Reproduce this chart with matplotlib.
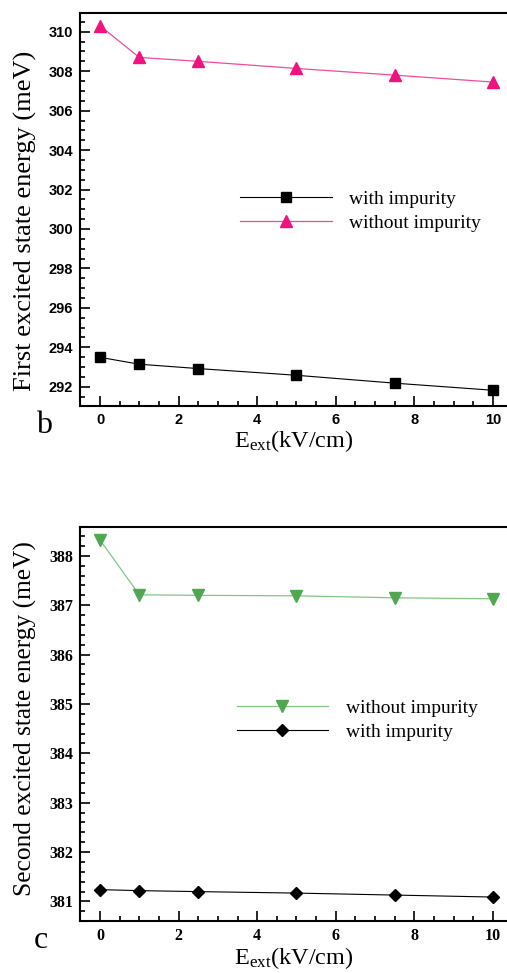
import matplotlib
matplotlib.use("Agg")
import matplotlib.pyplot as plt
from matplotlib.ticker import MultipleLocator

# external field (kV/cm)
field = [0, 1, 2.5, 5, 7.5, 10]

# first excited state energy (meV)
first_with = [293.49, 293.14, 292.92, 292.58, 292.18, 291.82]
first_without = [310.30, 308.70, 308.50, 308.14, 307.80, 307.45]

# second excited state energy (meV)
second_without = [388.32, 387.21, 387.20, 387.19, 387.15, 387.13]
second_with = [381.24, 381.22, 381.20, 381.17, 381.13, 381.09]

x_ticks = [0, 2, 4, 6, 8, 10]
first_yticks = [292, 294, 296, 298, 300, 302, 304, 306, 308, 310]
second_yticks = [381, 382, 383, 384, 385, 386, 387, 388]

plt.rcParams["mathtext.fontset"] = "custom"
plt.rcParams["mathtext.rm"] = "Liberation Serif"
plt.rcParams["mathtext.it"] = "Liberation Serif"

PINK = "#f0127e"
PINK_LINE = "#f04c9c"
GREEN = "#4fa84f"
GREEN_LINE = "#82c682"


def style_axes(ax, tick_font):
    ax.spines["right"].set_visible(False)
    for side in ("left", "top", "bottom"):
        ax.spines[side].set_linewidth(1.5)
    ax.tick_params(which="both", direction="in", top=False, right=False, width=1.2)
    ax.tick_params(which="major", length=7, pad=5)
    ax.tick_params(which="minor", length=3.5)
    ax.set_xticks(x_ticks)
    ax.xaxis.set_minor_locator(MultipleLocator(0.5))
    for lab in ax.get_xticklabels() + ax.get_yticklabels():
        lab.set_fontproperties(tick_font)


legend_kw = dict(loc="upper left", frameon=False,
                 prop={"family": "Liberation Serif", "size": 14},
                 handlelength=4.7, handletextpad=0.9, labelspacing=0.3,
                 borderpad=0, borderaxespad=0)

fig = plt.figure(figsize=(5.07, 9.73), dpi=100)

# panel b
ax1 = fig.add_axes([0.1578, 0.5827, 0.8422, 0.4039])
ax1.plot(field, first_with, color="black", lw=0.8, marker="s", ms=7,
         label="with impurity")
ax1.plot(field, first_without, color=PINK_LINE, lw=0.9, marker="^", ms=9,
         mec=PINK, mfc=PINK, label="without impurity")
ax1.set_xlim(-0.51, 10.36)
ax1.set_ylim(291.02, 310.95)
ax1.set_yticks(first_yticks)
ax1.yaxis.set_minor_locator(MultipleLocator(0.5))
style_axes(ax1, {"family": "Liberation Sans", "weight": "bold", "size": 10.5})
ax1.set_ylabel("First excited state energy (meV)", family="Liberation Serif",
               fontsize=19)
ax1.yaxis.set_label_coords(-0.10, 0.47)
ax1.set_xlabel(r"$\mathrm{E_{ext}(kV/cm)}$", fontsize=17.5, labelpad=1)
ax1.legend(bbox_to_anchor=(0.375, 0.548), **legend_kw)
fig.text(0.087, 0.555, "b", family="Liberation Serif", fontsize=23,
         ha="center", va="baseline")

# panel c
ax2 = fig.add_axes([0.1578, 0.0537, 0.8422, 0.4050])
ax2.plot(field, second_without, color=GREEN_LINE, lw=0.9, marker="v", ms=9,
         mec=GREEN, mfc=GREEN, label="without impurity")
ax2.plot(field, second_with, color="black", lw=0.8, marker="D", ms=6.5,
         label="with impurity")
ax2.set_xlim(-0.51, 10.36)
ax2.set_ylim(380.61, 388.59)
ax2.set_yticks(second_yticks)
ax2.yaxis.set_minor_locator(MultipleLocator(0.2))
style_axes(ax2, {"family": "Liberation Serif", "weight": "bold", "size": 11.5})
ax2.set_ylabel("Second excited state energy (meV)", family="Liberation Serif",
               fontsize=18.3)
ax2.yaxis.set_label_coords(-0.10, 0.513)
ax2.set_xlabel(r"$\mathrm{E_{ext}(kV/cm)}$", fontsize=17.5, labelpad=1)
ax2.legend(bbox_to_anchor=(0.367, 0.561), **legend_kw)
fig.text(0.08, 0.026, "c", family="Liberation Serif", fontsize=23,
         ha="center", va="baseline")

fig.savefig("out.png", dpi=100)
